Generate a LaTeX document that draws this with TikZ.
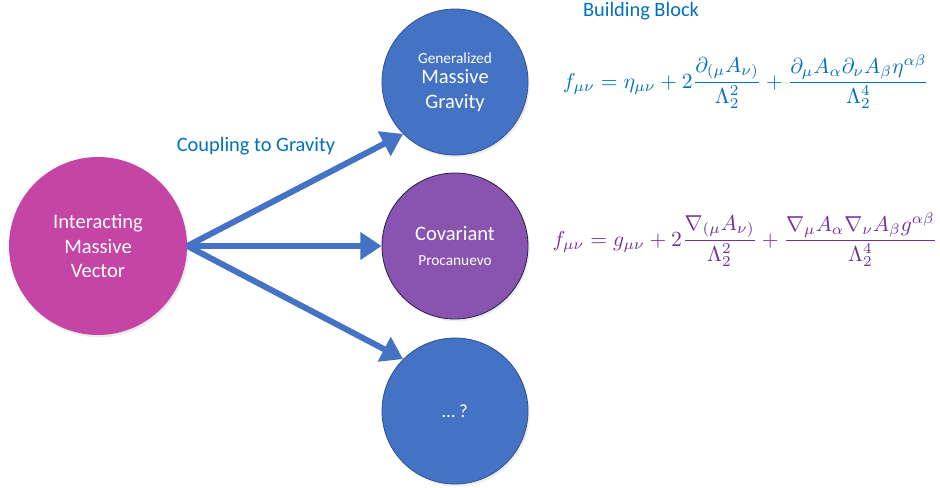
\documentclass[tikz,border=0pt]{standalone}
\usepackage{amsmath}
\usepackage[no-math]{fontspec}
\setmainfont{Carlito}
\usetikzlibrary{arrows.meta,shadows}
\definecolor{vecpink}{RGB}{196,69,165}
\definecolor{gravblue}{RGB}{68,114,196}
\definecolor{gravedge}{RGB}{47,82,143}
\definecolor{covpurple}{RGB}{137,84,175}
\definecolor{covedge}{RGB}{38,30,80}
\definecolor{labelblue}{RGB}{0,112,192}
\definecolor{eqpurple}{RGB}{112,48,160}
\newcommand{\smalltxt}{\fontsize{11.5}{14}\selectfont}
\newcommand{\eqsize}[1]{\scalebox{1.62}{#1}}
\tikzset{
  bubble/.style={circle, inner sep=0pt, minimum size=109.5pt, align=center, text=white,
    draw=gravedge, fill=gravblue, line width=0.6pt, font=\fontsize{15.4}{18.5}\selectfont,
    drop shadow={opacity=0.15, shadow xshift=1.2pt, shadow yshift=-1.8pt}},
  couple/.style={-{Triangle[width=20pt,length=16pt]}, line width=4.5pt, draw=gravblue},
  heading/.style={text=labelblue, font=\fontsize{15.3}{18}\selectfont},
  blockeq/.style={inner sep=0pt},
}
\begin{document}
\begin{tikzpicture}[x=0.75pt, y=-0.75pt]
  \useasboundingbox (0,0) rectangle (940,487);
  \node[bubble, fill=vecpink, draw=none, minimum size=133.5pt] (vec) at (98,246) {Interacting\\Massive\\Vector};
  \node[bubble] (mgrav) at (455,82) {{\smalltxt Generalized}\\[-3pt]Massive\\Gravity};
  \node[bubble, fill=covpurple, draw=covedge] (cov) at (455,246) {Covariant\\{\smalltxt Procanuevo}};
  \node[bubble, font=\fontsize{14}{17}\selectfont] (more) at (455,411) {\dots{} ?};
  \draw[couple] (vec.east) -- (mgrav.south west);
  \draw[couple] (vec.east) -- (cov.west);
  \draw[couple] (vec.east) -- (more.north west);
  \node[heading] (couplab) at (256,146) {Coupling to Gravity};
  \node[heading] (block) at (641,11) {Building Block};
  \node[blockeq, text=labelblue] (flateq) at (746,82)
    {\eqsize{$\displaystyle f_{\mu\nu}=\eta_{\mu\nu}+2\frac{\partial_{(\mu}A_{\nu)}}{\Lambda_2^2}+\frac{\partial_\mu A_\alpha\partial_\nu A_\beta\eta^{\alpha\beta}}{\Lambda_2^4}$}};
  \node[blockeq, text=eqpurple] (coveq) at (745,240)
    {\eqsize{$\displaystyle f_{\mu\nu}=g_{\mu\nu}+2\frac{\nabla_{(\mu}A_{\nu)}}{\Lambda_2^2}+\frac{\nabla_\mu A_\alpha\nabla_\nu A_\beta g^{\alpha\beta}}{\Lambda_2^4}$}};
\end{tikzpicture}
\end{document}
